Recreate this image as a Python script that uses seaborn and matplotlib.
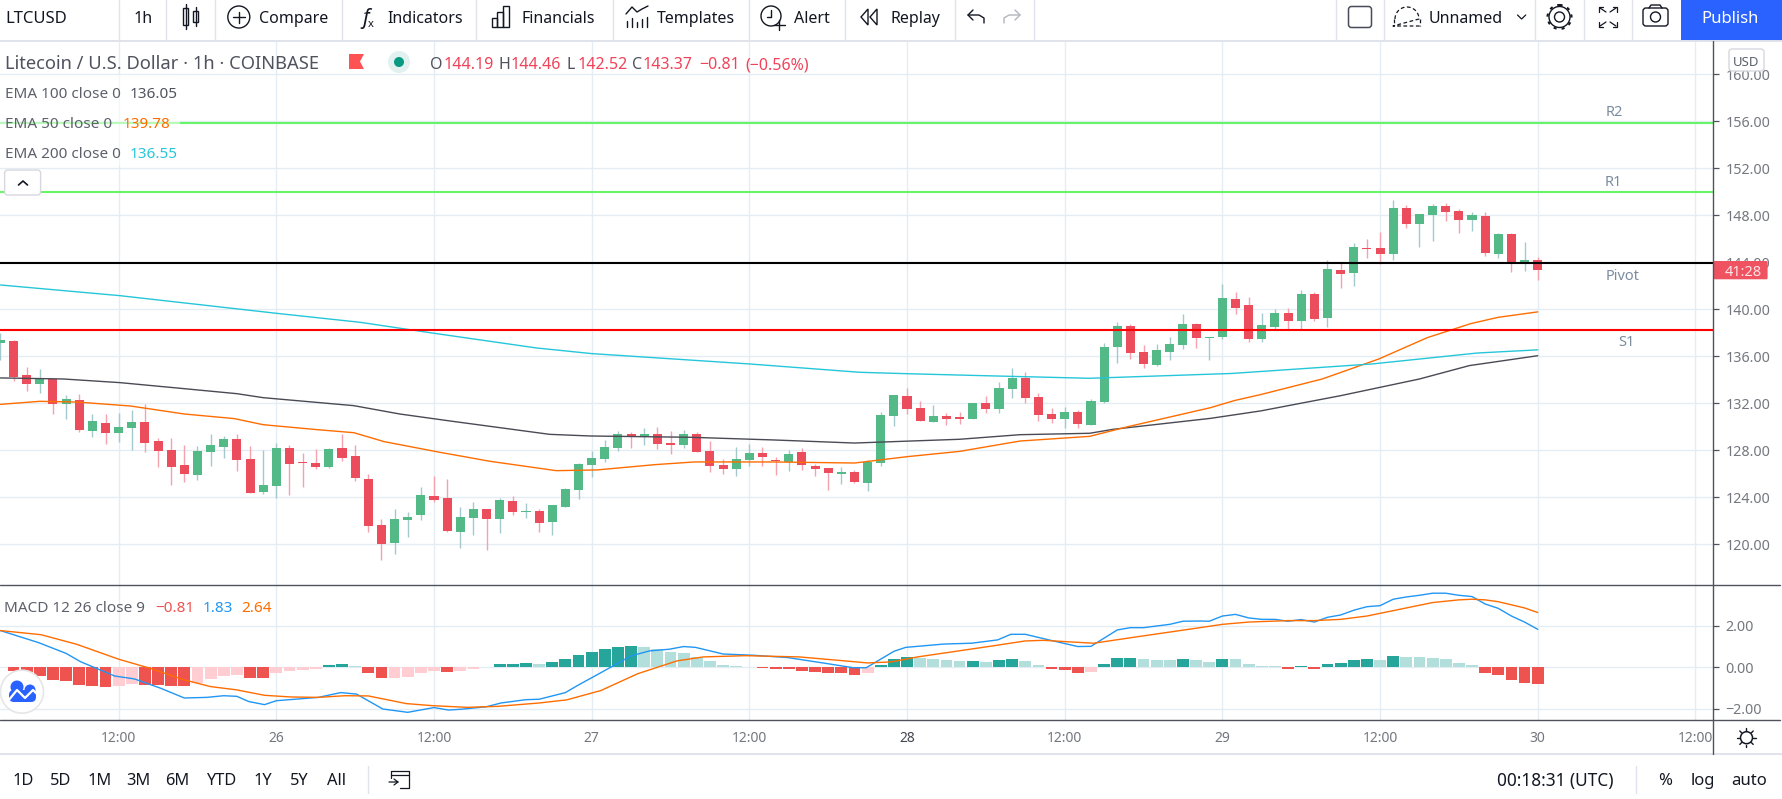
import matplotlib
matplotlib.use("Agg")
import matplotlib.pyplot as plt
from matplotlib.patches import Circle, FancyBboxPatch, Polygon, Rectangle
import numpy as np
import seaborn as sns

# candles, one per hour
opens = [137.14,137.3,134.41,133.65,134.07,131.94,132.28,129.65,130.33,129.48,
         129.9,130.41,128.79,128.03,126.75,125.9,127.86,128.28,128.96,127.26,
         124.45,124.96,128.2,127.0,126.92,126.58,128.2,127.52,125.56,121.65,
         120.11,122.07,122.5,124.11,123.94,121.05,122.24,123.01,122.16,123.69,
         122.75,122.84,121.9,123.18,124.62,126.75,127.26,128.2,129.39,129.22,
         129.39,128.62,128.45,129.39,127.94,126.75,126.41,127.18,127.77,127.18,
         127.01,127.86,126.67,126.5,125.99,126.16,125.22,126.92,130.92,132.62,
         131.6,130.41,130.92,130.84,130.67,132.03,131.52,133.22,134.16,132.54,
         131.09,130.67,131.26,130.16,132.11,136.79,138.58,136.37,135.26,136.37,
         136.96,138.75,137.56,137.65,140.88,140.37,137.48,138.5,139.69,139.01,
         141.3,139.26,143.35,143.09,145.22,145.22,144.71,148.62,147.26,148.03,
         148.79,148.37,147.6,147.94,144.71,146.41,143.86,144.19]
closes = [137.39,134.24,133.65,134.07,131.94,132.37,129.73,130.5,129.48,129.99,
          130.41,128.62,127.94,126.58,125.99,127.94,128.45,128.96,127.18,124.37,
          125.05,128.2,126.84,126.92,126.58,128.11,127.35,125.65,121.56,120.03,
          122.16,122.33,124.2,123.77,121.13,122.33,123.01,122.16,123.77,122.75,
          122.84,121.82,123.35,124.71,126.84,127.35,128.28,129.39,129.22,129.39,
          128.54,128.45,129.39,127.86,126.67,126.41,127.26,127.77,127.43,127.09,
          127.69,126.75,126.41,126.07,126.16,125.3,127.01,131.0,132.71,131.52,
          130.5,130.92,130.67,130.67,132.03,131.52,133.3,134.16,132.45,131.01,
          130.67,131.26,130.24,132.2,136.79,138.58,136.28,135.35,136.54,137.05,
          138.75,137.56,137.65,140.96,140.11,137.48,138.67,139.69,139.01,141.3,
          139.18,143.43,143.01,145.3,145.13,144.71,148.62,147.26,148.11,148.79,
          148.28,147.6,148.03,144.79,146.41,143.86,144.2,143.37]
highs = [138.0,137.39,135.09,134.92,134.07,132.71,132.79,131.09,131.09,131.18,
         131.43,131.94,129.05,129.05,128.45,128.37,129.39,129.22,129.39,128.37,
         128.03,128.62,128.45,127.77,128.11,128.2,129.39,128.45,125.99,122.16,
         123.01,122.75,124.88,125.82,125.56,123.18,123.6,123.01,123.94,124.11,
         123.52,123.01,123.35,124.79,126.92,127.94,128.88,129.65,129.56,129.9,
         129.99,129.65,129.73,129.56,128.79,127.26,128.28,128.54,128.28,127.43,
         128.03,128.2,126.84,126.5,126.58,126.33,127.18,131.26,132.71,133.3,
         132.2,131.86,131.18,131.26,132.03,132.62,133.82,135.01,134.67,132.88,
         131.6,131.69,131.43,132.37,137.13,138.92,138.75,136.96,137.05,137.65,
         139.6,138.84,137.65,142.16,141.48,141.05,139.69,140.03,140.11,141.65,
         141.48,144.2,143.94,145.65,145.99,146.58,149.3,148.88,148.11,148.96,
         149.05,148.54,148.28,148.28,146.5,146.5,145.73,144.46]
lows = [135.7,133.9,133.05,132.88,131.09,130.67,129.56,129.13,128.54,128.71,
        128.03,127.86,126.58,125.05,125.31,125.48,126.67,127.35,126.24,124.37,
        124.28,123.94,124.2,124.88,126.41,126.5,127.09,125.39,121.05,118.67,
        119.18,120.62,122.07,123.6,121.05,119.69,120.79,119.52,120.96,122.5,
        122.24,121.05,120.79,123.18,123.86,125.73,127.01,127.94,128.2,128.45,
        128.11,127.69,128.2,127.86,126.16,125.99,125.82,126.67,126.67,125.9,
        126.24,126.33,125.82,124.62,125.13,125.22,124.54,126.67,130.07,131.09,
        130.5,130.41,130.16,130.24,130.67,131.18,131.18,132.45,132.03,130.5,
        130.33,129.9,129.9,130.16,132.03,135.43,135.77,135.01,135.18,135.69,
        136.62,136.71,135.69,137.48,139.6,137.22,137.22,138.33,138.33,138.33,
        139.01,138.5,141.82,141.99,144.37,143.86,144.2,146.92,145.3,145.82,
        147.52,146.5,146.67,144.54,144.37,143.18,143.26,142.52]

# moving averages, read at the points where they bend
ema100_h = [0,4.8,9.1,13.2,18,20,26.9,30.4,34.2,41.8,44.9,52.5,58.9,65,73,77.6,82.9,84.7,92.1,95.9,102,108,111.8,117]
ema100 = [134.16,134.07,133.76,133.33,132.82,132.48,131.8,131.09,130.5,129.36,129.22,129.11,128.88,128.62,128.94,129.33,129.45,129.79,130.72,131.35,132.65,134.07,135.21,136.05]
ema50_h = [0,3,5.8,9.9,14,17.8,20,24.1,26.9,29.2,33.45,37.3,42.3,45.4,49.8,52.8,58.9,65,69,73,77.6,82.9,85.8,92.1,93.9,95.9,100.6,104.9,108.6,111.9,114,117]
ema50 = [131.91,132.17,132.11,131.77,131.09,130.7,130.18,129.76,129.5,128.74,127.83,127.06,126.27,126.33,126.78,127.01,127.01,126.92,127.46,127.91,128.79,129.19,130.01,131.63,132.23,132.74,134.07,135.77,137.59,138.78,139.32,139.78]
ema200_h = [0,9.1,21,27.4,33,40.8,45,57,65.4,69,75.6,82.9,85.8,93.7,104.4,112.4,117]
ema200 = [142.07,141.16,139.66,138.89,137.96,136.71,136.23,135.35,134.64,134.52,134.33,134.13,134.24,134.54,135.35,136.28,136.55]

# pivot levels
level_names = ["R2", "R1", "Pivot", "S1"]
level_values = [155.86, 149.98, 143.9, 138.21]
level_colors = ["#66f566", "#66f566", "#000000", "#ff0000"]

# macd pane
hist_vals = [.02,-.18,-.22,-.42,-.61,-.66,-.85,-.9,-.95,-.9,
             -.8,-.85,-.85,-.9,-.9,-.77,-.56,-.42,-.37,-.51,
             -.51,-.27,-.18,-.13,-.08,.11,.16,.06,-.27,-.51,
             -.51,-.47,-.27,-.18,-.22,-.18,-.08,.02,.16,.16,
             .21,.16,.26,.4,.59,.74,.88,.98,1.03,.98,
             .87,.74,.69,.5,.31,.11,.06,.02,-.03,-.08,
             -.08,-.18,-.22,-.27,-.27,-.37,-.27,.11,.4,.5,
             .45,.4,.35,.31,.31,.26,.35,.4,.31,.11,
             -.08,-.13,-.27,-.22,.16,.45,.45,.4,.35,.35,
             .4,.35,.26,.4,.4,.16,.06,.06,-.08,.06,
             -.08,.16,.21,.35,.4,.35,.55,.5,.5,.45,
             .4,.21,.11,-.27,-.37,-.61,-.75,-.81]
hist_kind = ("TRRRRRRRRr" "rRRRRrrrrR" "RrrrrTTtRR" "rrrrRrrTTT"
             "TtTTTTTTTt" "ttttttttRR" "RRRRRRrTTT" "ttttTtTTtt"
             "RRRrTTTttt" "TttTttttRT" "RTTTTtTttt" "tttRRRRR")
macd_h = [0,2.9,5,6.1,8.7,10.2,12.2,14,15.7,17,18,18.9,20.1,21,24.2,25.9,27.1,29.1,31,33,34.1,35.1,37,38.1,40,41,43,44,45.7,
          48,49.4,50.9,52,52.9,55,57.3,59.9,62.8,64.9,65.9,68,68.9,71.8,73.9,75.9,76.9,78,80,82,83,85,86,87,89,90,91.3,
          92,93,94,95,96,97,98,99,100,101,102,103,104,105,106,107,108,109,110,111,112,113,114,115,116,117]
macd = [1.77,1.19,.67,.27,-.42,-.56,-1.01,-1.48,-1.45,-1.37,-1.4,-1.65,-1.8,-1.61,-1.45,-1.22,-1.29,-2.01,-2.17,-1.94,-2.06,-2.02,-1.9,-1.72,-1.56,-1.54,-1.22,-.85,-.26,
        .55,.79,.87,1.0,.96,.64,.58,.47,.19,-.02,-.02,.77,.96,1.12,1.16,1.32,1.59,1.59,1.29,1.0,1.01,1.8,1.91,1.91,2.07,2.22,2.23,
        2.22,2.47,2.55,2.38,2.31,2.31,2.22,2.3,2.18,2.41,2.52,2.75,2.92,2.97,3.28,3.39,3.47,3.57,3.57,3.47,3.41,3.05,2.84,2.47,2.18,1.83]
signal_h = [0,3.1,5.8,9,11.4,14,16,18,20.1,22.1,24.2,26.2,28,30.9,32.9,35.5,37.9,41,43.1,45.7,
            48.5,51.5,53.5,56.7,60.8,63.7,66,67.8,69.8,75.3,78,79.4,81.5,83.2,86.4,91.3,
            93,95,98,100,102,104,106,109,111,112,113,114,116,117]
signal = [1.77,1.57,1.11,.39,-.05,-.61,-.93,-1.09,-1.35,-1.43,-1.45,-1.37,-1.38,-1.75,-1.85,-1.93,-1.88,-1.72,-1.57,-1.12,
          -.31,.31,.5,.56,.5,.34,.21,.26,.5,1.01,1.27,1.3,1.22,1.16,1.46,1.91,
          2.07,2.18,2.25,2.25,2.31,2.47,2.73,3.12,3.25,3.28,3.25,3.16,2.86,2.64]

# axis labels
price_ticks = [120,124,128,132,136,140,144,148,152,156,160]
macd_ticks = [2,0,-2]
macd_tick_labels = ["2.00", "0.00", "\u22122.00"]
time_ticks = [9,21,33,45,57,69,81,93,105,117,129]
time_labels = ["12:00","26","12:00","27","12:00","28","12:00","29","12:00","30","12:00"]
range_labels = ["1D","5D","1M","3M","6M","YTD","1Y","5Y","All"]
range_pos = [23,60.5,99.5,138,177,221,263,299,337]

W, H = 1783, 799
GRID = "#e4edf3"
AXIS = "#50535e"
SEP = "#e0e3eb"
LABEL = "#74777f"
DARK = "#131722"
UP, DOWN = "#53b987", "#eb4d5c"
UP_WICK, DOWN_WICK = "#a3c9cc", "#f4a3ae"
ORANGE, CYAN, BLUE = "#ff6d00", "#26c6da", "#2196f3"
FONT = "Noto Sans"

sns.set_theme(style="white")
plt.rcParams["font.family"] = [FONT, "DejaVu Sans"]

fig = plt.figure(figsize=(W / 100, H / 100), dpi=100, facecolor="white")


def pane(top, bottom):
    return fig.add_axes([0, 1 - bottom / H, 1713.4 / W, (bottom - top) / H])


ax = pane(41, 585)
ax2 = pane(585, 720)
hours = np.arange(len(opens))

# price pane
ax.set_xlim(-0.03, 130.37)
ax.set_ylim(116.54, 162.83)
ax.set_yticks(price_ticks)
ax.set_yticklabels([f"{p:.2f}" for p in price_ticks])
ax.set_xticks(time_ticks)
ax.tick_params(axis="x", length=0, labelbottom=False)
ax.yaxis.tick_right()
ax.tick_params(axis="y", length=4, width=0.9, color=AXIS, labelcolor=LABEL, labelsize=10.3, pad=4.7)
ax.grid(True, color=GRID, lw=1.0)
ax.set_axisbelow(True)
for s in ax.spines.values():
    s.set_visible(False)

o, c = np.array(opens), np.array(closes)
is_up = c >= o
ax.vlines(hours[is_up], np.array(lows)[is_up], np.array(highs)[is_up], color=UP_WICK, lw=1.0, zorder=2)
ax.vlines(hours[~is_up], np.array(lows)[~is_up], np.array(highs)[~is_up], color=DOWN_WICK, lw=1.0, zorder=2)
bottoms = np.minimum(o, c)
heights = np.maximum(np.abs(c - o), 0.085)
ax.bar(hours, heights, bottom=bottoms, width=0.69, color=[UP if u else DOWN for u in is_up], lw=0, zorder=3)

sns.lineplot(x=ema100_h, y=ema100, color="#4a4a55", lw=1.0, ax=ax, zorder=4, estimator=None, sort=False)
sns.lineplot(x=ema50_h, y=ema50, color=ORANGE, lw=1.0, ax=ax, zorder=4, estimator=None, sort=False)
sns.lineplot(x=ema200_h, y=ema200, color=CYAN, lw=1.0, ax=ax, zorder=4, estimator=None, sort=False)
for val, col in zip(level_values, level_colors):
    ax.axhline(val, color=col, lw=1.5, zorder=5)
ax.set_xlabel("")
ax.set_ylabel("")

# macd pane
sns.barplot(x=list(hours), y=hist_vals, hue=list(hist_kind), native_scale=True, dodge=False, width=0.9,
            palette={"T": "#26a69a", "t": "#b2dfdb", "R": "#ef5350", "r": "#ffcdd2"},
            saturation=1, legend=False, linewidth=0, ax=ax2, zorder=2)
sns.lineplot(x=macd_h, y=macd, color=BLUE, lw=1.0, ax=ax2, zorder=4, estimator=None, sort=False)
sns.lineplot(x=signal_h, y=signal, color=ORANGE, lw=1.0, ax=ax2, zorder=4, estimator=None, sort=False)
ax2.set_xlim(-0.03, 130.37)
ax2.set_ylim(-2.54, 3.966)
ax2.set_xlabel("")
ax2.set_ylabel("")
ax2.set_yticks(macd_ticks)
ax2.set_yticklabels(macd_tick_labels)
ax2.set_xticks(time_ticks)
ax2.set_xticklabels(time_labels)
ax2.yaxis.tick_right()
ax2.tick_params(axis="y", length=4, width=0.9, color=AXIS, labelcolor=LABEL, labelsize=10.3, pad=4.7)
ax2.tick_params(axis="x", length=4, width=0.9, color=AXIS, labelcolor=LABEL, labelsize=10, pad=3.8)
ax2.get_xticklabels()[5].set_fontweight("bold")
ax2.get_xticklabels()[5].set_color("#444750")
ax2.grid(True, color=GRID, lw=1.0)
ax2.set_axisbelow(True)
for s in ax2.spines.values():
    s.set_visible(False)

# everything around the panes, in screen pixels
ui = fig.add_axes([0, 0, 1, 1], zorder=10)
ui.set_xlim(0, W)
ui.set_ylim(H, 0)
ui.axis("off")
ui.patch.set_alpha(0)


def txt(x, y, s, color=DARK, size=11.5, ha="left", **kw):
    ui.text(x, y, s, color=color, fontsize=size, ha=ha, va="center_baseline", **kw)


def line(xs, ys, color=DARK, lw=1.0, **kw):
    ui.plot(xs, ys, color=color, lw=lw, solid_capstyle="round", **kw)


def rect(x0, y0, x1, y1, face="none", edge="none", lw=1.0, alpha=None):
    ui.add_patch(Rectangle((x0, y0), x1 - x0, y1 - y0, facecolor=face, edgecolor=edge, lw=lw, alpha=alpha))


def rrect(x0, y0, x1, y1, face="none", edge=DARK, lw=1.0, r=3):
    ui.add_patch(FancyBboxPatch((x0 + r, y0 + r), x1 - x0 - 2 * r, y1 - y0 - 2 * r,
                                boxstyle=f"round,pad={r}", facecolor=face, edgecolor=edge, lw=lw))


def circle(x, y, r, face="none", edge=DARK, lw=1.0, **kw):
    ui.add_patch(Circle((x, y), r, facecolor=face, edgecolor=edge, lw=lw, **kw))


# frame lines
line([0, W], [41, 41], SEP, 1.4)
line([0, W], [754, 754], SEP, 1.4)
line([0, 1780], [585, 585], AXIS, 1.0)
line([0, 1780], [720, 720], AXIS, 1.0)
line([1713.4, 1713.4], [41, 754], AXIS, 1.0)

# top toolbar
for x in [118.6, 166.5, 215, 341.7, 476.5, 612.6, 749, 845, 955, 1033.6, 1335.7, 1384, 1535, 1583.6, 1632]:
    line([x, x], [0, 41], SEP, 1.0)
txt(5, 17, "LTCUSD", size=12, fontweight="bold")
txt(142.7, 17, "1h", ha="center")
txt(259.5, 17, "Compare")
txt(387, 17, "Indicators")
txt(522, 17, "Financials")
txt(656.6, 17, "Templates")
txt(794, 17, "Alert")
txt(891, 17, "Replay")
txt(1429, 17, "Unnamed")

# candle icon
line([186, 186], [4, 29])
rect(183.5, 8, 188.5, 25, face="white", edge=DARK)
line([196, 196], [7, 26])
rect(193.5, 11, 198.5, 22, face="white", edge=DARK)
# compare
circle(238.8, 17, 11)
line([233, 244.6], [17, 17])
line([238.8, 238.8], [11.5, 22.5])
# fx
txt(362, 16, "f", size=15, style="italic")
txt(368, 23, "x", size=8)
# financials
rect(492, 18, 497, 27, edge=DARK)
rect(497, 12, 503, 27, edge=DARK)
rect(503, 6, 509, 27, edge=DARK)
# templates
line([626, 632, 637, 642, 648], [14, 7, 12, 9, 6])
for x, y in zip([627, 632, 637, 642, 647], [21, 18, 22, 19, 17]):
    line([x, x], [y, 27])
# alert
circle(771, 16, 10)
line([771, 771, 767], [10, 17, 17])
line([779, 779], [20, 30])
line([774, 785], [25, 25])
# replay
ui.add_patch(Polygon([[868, 9], [861, 17], [868, 25]], closed=True, fill=False, edgecolor=DARK, lw=1.0))
ui.add_patch(Polygon([[877, 9], [870, 17], [877, 25]], closed=True, fill=False, edgecolor=DARK, lw=1.0))
# undo and redo
line([973, 968, 973], [10, 15, 20])
line([968, 979, 984, 984], [15, 15, 18, 23])
line([1015, 1020, 1015], [10, 15, 20], "#b2b5be")
line([1020, 1009, 1004, 1004], [15, 15, 18, 23], "#b2b5be")
# square, cloud, chevron
rrect(1348.5, 6.5, 1371.5, 27.5, edge="#4a4d57", lw=1.1)
cloud_t = np.linspace(np.pi, 2 * np.pi, 30)
line(list(1407 + 12 * np.cos(cloud_t)) + [1393, 1421], list(19 + 12 * np.sin(cloud_t)) + [26, 26], DARK, 0.9, ls=(0, (3, 2)))
line([1394, 1394], [19, 26], DARK, 0.9, ls=(0, (3, 2)))
line([1420, 1420], [19, 26], DARK, 0.9, ls=(0, (3, 2)))
line([1517.5, 1521.6, 1525.7], [15, 19, 15], DARK, 0.9)
# gear
circle(1559.5, 17, 5)
circle(1559.5, 17, 10.5, lw=1.0)
circle(1559.5, 17, 12, edge=DARK, lw=1.5, ls=(0, (1.5, 2.4)))
# fullscreen corners
for sx, sy in [(-1, -1), (1, -1), (-1, 1), (1, 1)]:
    cx, cy = 1608 + sx * 10, 17 + sy * 10
    line([cx - sx * 5, cx - sx * 1, cx - sx * 1], [cy, cy, cy - sy * 5], DARK, 0.9)
    line([cx - sx * 8, cx - sx * 2], [cy - sy * 5, cy - sy * 1], DARK, 0.9)
# camera
rrect(1643, 8, 1668, 26, edge=DARK, lw=1.0, r=3)
circle(1655.5, 17, 5)
line([1649, 1651, 1660, 1662], [8, 5, 5, 8])
# publish
rect(1681, 0, W, 41, face="#2962ff")
txt(1730.5, 17, "Publish", color="white", ha="center", size=12, fontweight="medium")

# legend block
rect(0, 75, 180, 165, face="white", alpha=0.55)
txt(5, 62, "Litecoin / U.S. Dollar \u00b7 1h \u00b7 COINBASE", "#50535e", 13.2)
ui.add_patch(Polygon([[349, 54], [364, 54], [360, 61.5], [364, 69], [349, 69]], closed=True, facecolor="#ff5252", edgecolor="none"))
circle(399, 62, 11, face="#e0f1ef", edge="none")
circle(399, 62, 5, face="#089981", edge="none")
PINK = "#f0435a"
for x, s in [(430, "O"), (498.6, "H"), (567, "L"), (632, "C")]:
    txt(x, 63, s, "#50535e", 11.5)
for x, s in [(444, "144.19"), (511, "144.46"), (578, "142.52"), (643, "143.37"),
             (699.5, "\u22120.81"), (745, "(\u22120.56%)")]:
    txt(x, 63, s, PINK, 11.5)
for y, s in [(92, "EMA 100 close 0"), (122, "EMA 50 close 0"), (152, "EMA 200 close 0")]:
    txt(5, y, s, "#5d606b", 11)
txt(130, 92, "136.05", "#50535e", 11)
txt(122.5, 122, "139.78", ORANGE, 11)
txt(130, 152, "136.55", CYAN, 11)
rrect(4.6, 170, 40.6, 195, face="white", edge="#d6d8de", lw=1.0, r=3)
line([18.5, 23, 27.5], [185, 181, 185], DARK, 1.2)

# macd legend
txt(4, 607, "MACD 12 26 close 9", "#5d606b", 11)
txt(155, 607, "\u22120.81", "#ef5350", 11)
txt(203, 607, "1.83", BLUE, 11)
txt(241, 607, "2.64", ORANGE, 11)

# pivot names
for (x, y), s in zip([(1614.5, 110.7), (1613.5, 180.7), (1622.6, 274), (1626, 341)], level_names):
    txt(x, y, s, "#7b8ca0", 10.5, ha="center")

# price scale extras
rrect(1729, 49, 1764, 71, face="white", edge="#d6d8de", lw=1.0, r=3)
txt(1746.5, 61, "USD", "#5d606b", 9.5, ha="center")
rrect(1713.6, 261, 1767.6, 279.3, face="#ef5362", edge="none", r=1.5)
txt(1743, 270, "41:28", "#fde3e6", 10.5, ha="center", fontweight="bold")

# tradingview bubble
circle(22, 691.7, 21.5, face="white", edge="#e6e6e6", lw=1.2)
rrect(9, 690, 36, 702, face="#2962ff", edge="none", r=5)
circle(17, 687, 6.5, face="#2962ff", edge="none")
circle(30, 690, 5.5, face="#2962ff", edge="none")
line([8, 17, 25, 33, 38], [701, 690, 698, 690, 695], "white", 1.6)

# bottom bar
for x, s in zip(range_pos, range_labels):
    txt(x, 779, s, DARK, 11.8, ha="center")
line([368.5, 368.5], [766, 793], SEP, 1.0)
line([391, 391, 409, 409, 400], [778, 771, 771, 788, 788], DARK, 0.9)
line([391, 409], [775, 775], DARK, 0.9)
line([389, 398, 394], [782, 782, 779], DARK, 0.9)
line([398, 394], [782, 785], DARK, 0.9)
txt(1496.6, 779, "00:18:31 (UTC)", DARK, 12.4)
line([1635.7, 1635.7], [766, 793], SEP, 1.0)
txt(1664.7, 779, "%", DARK, 12, ha="center")
txt(1702.6, 779, "log", DARK, 12, ha="center")
txt(1749, 779, "auto", DARK, 12, ha="center")

# sun icon
circle(1746.5, 737.7, 6, lw=1.1)
for a in np.arange(0, 2 * np.pi, np.pi / 4):
    line([1746.5 + 7 * np.cos(a), 1746.5 + 9.5 * np.cos(a)], [737.7 + 7 * np.sin(a), 737.7 + 9.5 * np.sin(a)], DARK, 1.0)

fig.savefig("out.png", dpi=100, facecolor="white")
